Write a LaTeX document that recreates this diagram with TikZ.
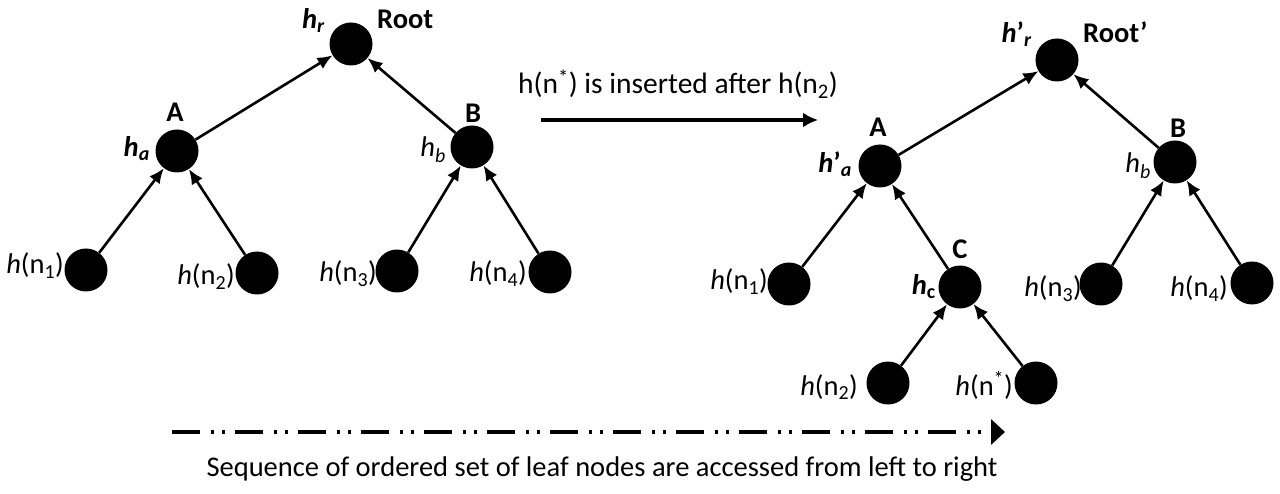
\documentclass[tikz,border=0pt]{standalone}
\usepackage{fontspec}
\setmainfont{Carlito}
\usetikzlibrary{arrows.meta}
\newcommand\hb{\textbf{\textit{h}}}
\newcommand\hn[1]{\textit{h}(n\textsubscript{#1})}
\tikzset{
  vtx/.style={circle,fill=black,inner sep=0pt,minimum size=43pt},
  lab/.style={inner sep=0pt,font=\fontsize{28.5}{33}\selectfont},
  blab/.style={inner sep=0pt,font=\fontsize{28.5}{33}\selectfont\bfseries},
  edge/.style={line width=2.6pt,-{Latex[length=15pt,width=13pt]}},
}
\begin{document}
\begin{tikzpicture}[x=1pt,y=-1pt]
\useasboundingbox (0,0) rectangle (1280,494);
% ---- original tree ----
\node[vtx] (r) at (351,44) {};
\node[vtx] (a) at (177,151) {};
\node[vtx] (b) at (472,147) {};
\node[vtx] (n1) at (86,270) {};
\node[vtx] (n2) at (257,273) {};
\node[vtx] (n3) at (397,271) {};
\node[vtx] (n4) at (550,272) {};
\draw[edge] (a) -- (r);
\draw[edge] (b) -- (r);
\draw[edge] (n1) -- (a);
\draw[edge] (n2) -- (a);
\draw[edge] (n3) -- (b);
\draw[edge] (n4) -- (b);
\node[lab,anchor=base east] (lr) at (325,29) {\hb\textsubscript{\textbf{\textit{r}}}};
\node[blab,anchor=base west] (lroot) at (377,29) {Root};
\node[blab,anchor=base] (la) at (175,122) {A};
\node[lab,anchor=base east] (lha) at (150,157) {\hb\textsubscript{\textbf{\textit{a}}}};
\node[blab,anchor=base] (lb) at (473,123) {B};
\node[lab,anchor=base east] (lhb) at (446,157) {\textit{h}\textsubscript{\textit{b}}};
\node[lab,anchor=base east] (l1) at (64,274) {\hn{1}};
\node[lab,anchor=base east] (l2) at (235,285) {\hn{2}};
\node[lab,anchor=base east] (l3) at (377,282) {\hn{3}};
\node[lab,anchor=base east] (l4) at (527,282) {\hn{4}};
% ---- insertion arrow ----
\node[inner sep=0pt,font=\fontsize{29.5}{34}\selectfont,anchor=base] (ins) at (678,94) {h(n\textsuperscript{*}) is inserted after h(n\textsubscript{2})};
\coordinate (p0) at (541,120);
\coordinate (p1) at (818,120);
\draw[line width=3.5pt,-{Latex[length=15pt,width=15pt]}] (p0) -- (p1);
% ---- updated tree ----
\node[vtx] (r2) at (1057,60) {};
\node[vtx] (a2) at (880,166) {};
\node[vtx] (b2) at (1175,162) {};
\node[vtx] (c2) at (960,287) {};
\node[vtx] (m1) at (789,284) {};
\node[vtx] (m3) at (1101,284) {};
\node[vtx] (m4) at (1252,283) {};
\node[vtx] (m2) at (888,383) {};
\node[vtx] (ms) at (1036,383) {};
\draw[edge] (a2) -- (r2);
\draw[edge] (b2) -- (r2);
\draw[edge] (m1) -- (a2);
\draw[edge] (c2) -- (a2);
\draw[edge] (m3) -- (b2);
\draw[edge] (m4) -- (b2);
\draw[edge] (m2) -- (c2);
\draw[edge] (ms) -- (c2);
\node[lab,anchor=base east] (lr2) at (1032,43) {\hb\textbf{’}\textsubscript{\textbf{\textit{r}}}};
\node[blab,anchor=base west] (lroot2) at (1083,43) {Root’};
\node[blab,anchor=base] (la2) at (878,137) {A};
\node[lab,anchor=base east] (lha2) at (852,173) {\hb\textbf{’}\textsubscript{\textbf{\textit{a}}}};
\node[blab,anchor=base] (lb2) at (1178,138) {B};
\node[lab,anchor=base east] (lhb2) at (1151,173) {\textit{h}\textsubscript{\textit{b}}};
\node[blab,anchor=base] (lc) at (960,259) {C};
\node[lab,anchor=base east] (lhc) at (936,295) {\hb\textsubscript{\textbf{c}}};
\node[lab,anchor=base east] (k1) at (768,290) {\hn{1}};
\node[lab,anchor=base east] (k3) at (1082,297) {\hn{3}};
\node[lab,anchor=base east] (k4) at (1228,297) {\hn{4}};
\node[lab,anchor=base east] (k2) at (858,395) {\hn{2}};
\node[lab,anchor=base east] (ks) at (1013,395) {\textit{h}(n\textsuperscript{*})};
% ---- access order ----
\coordinate (s0) at (172,432);
\coordinate (s1) at (1005,432);
\draw[line width=3.5pt,dash pattern=on 28pt off 11pt on 3pt off 8pt on 3pt off 10pt,
  -{Triangle[length=14pt,width=25pt]}] (s0) -- (s1);
\node[lab,anchor=base] (seq) at (602,476) {Sequence of ordered set of leaf nodes are accessed from left to right};
\end{tikzpicture}
\end{document}
